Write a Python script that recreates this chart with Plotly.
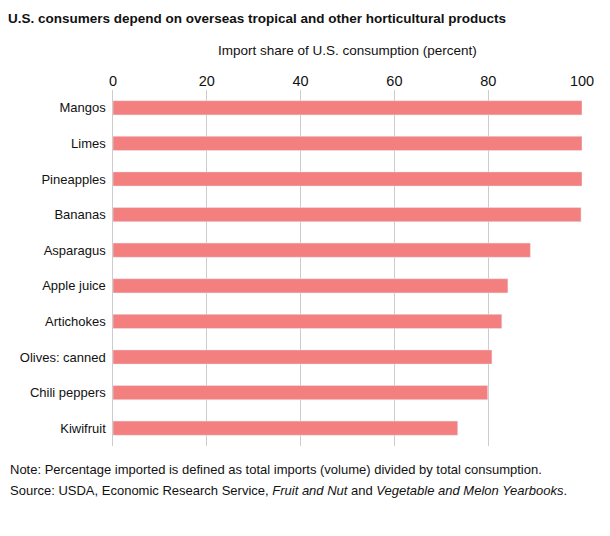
import plotly.graph_objects as go

# Data
products = ["Mangos", "Limes", "Pineapples", "Bananas", "Asparagus", "Apple juice",
            "Artichokes", "Olives: canned", "Chili peppers", "Kiwifruit"]
import_share = [100, 100, 100, 99.8, 89, 84.2, 82.9, 80.8, 79.9, 73.5]
x_ticks = [0, 20, 40, 60, 80, 100]

fig = go.Figure()
fig.add_trace(go.Bar(
    y=products, x=import_share, orientation="h",
    marker_color="#f47f7f", width=0.4,
    hovertemplate="%{y}: %{x}%<extra></extra>",
))

fig.update_layout(
    width=610, height=536,
    margin=dict(l=105, r=36, t=82, b=98),
    plot_bgcolor="white", paper_bgcolor="white",
    font=dict(family="Liberation Sans, Arial, sans-serif", size=13, color="#111"),
    showlegend=False,
    title=dict(text="<b>U.S. consumers depend on overseas tropical and other horticultural products</b>",
               x=0, xanchor="left", y=1 - 10 / 536, yanchor="middle", font_size=13.5),
    xaxis=dict(side="top", range=[0, 100], tickvals=x_ticks, showgrid=True,
               gridcolor="#cccccc", gridwidth=1, zeroline=False, ticks="",
               tickfont_size=14.5, automargin=False),
    yaxis=dict(autorange="reversed", ticks="", showgrid=False, zeroline=False, automargin=False,
               showline=True, linecolor="#cccccc", ticksuffix=" "),
)

# axis title placed as annotation
fig.add_annotation(xref="paper", yref="paper", x=0.5, y=1.112, xanchor="center", yanchor="middle",
                   showarrow=False, font_size=13.5,
                   text="Import share of U.S. consumption (percent)")
fig.add_annotation(xref="paper", yref="paper", x=-0.224, y=-0.065, xanchor="left", yanchor="middle",
                   showarrow=False, font_size=13,
                   text="Note: Percentage imported is defined as total imports (volume) divided by total consumption.")
fig.add_annotation(xref="paper", yref="paper", x=-0.224, y=-0.126, xanchor="left", yanchor="middle",
                   showarrow=False, font_size=13,
                   text="Source: USDA, Economic Research Service, <i>Fruit and Nut</i> and <i>Vegetable and Melon Yearbooks</i>.")

fig.write_html("out.html")
